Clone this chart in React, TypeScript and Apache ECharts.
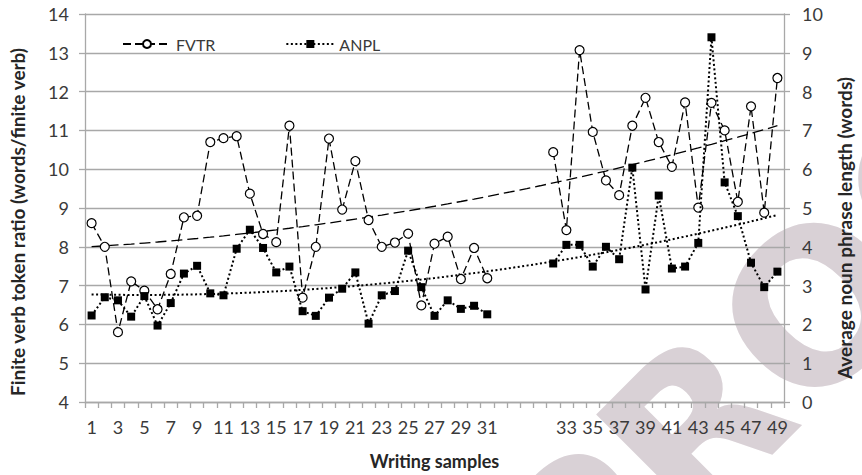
import React, { useEffect, useRef } from "react";
import * as echarts from "echarts";

const categories: string[] = [
  "1","2","3","4","5","6","7","8","9","10","11","12","13","14","15","16","17","18","19","20",
  "21","22","23","24","25","26","27","28","29","30","31","","","","",
  "32","33","34","35","36","37","38","39","40","41","42","43","44","45","46","47","48","49",
];

const fvtr: (number | null)[] = [
  8.61, 8.0, 5.8, 7.11, 6.87, 6.39, 7.3, 8.76, 8.8, 10.7, 10.8, 10.85, 9.37, 8.33, 8.12, 11.12,
  6.69, 8.0, 10.79, 8.96, 10.21, 8.69, 8.0, 8.11, 8.34, 6.49, 8.08, 8.26, 7.17, 7.97, 7.19,
  null, null, null, null,
  10.44, 8.43, 13.07, 10.96, 9.71, 9.33, 11.12, 11.84, 10.7, 10.06, 11.72, 9.01, 11.71, 11.0,
  9.16, 11.62, 8.88, 12.35,
];

const anpl: (number | null)[] = [
  2.23, 2.7, 2.62, 2.2, 2.73, 1.97, 2.55, 3.31, 3.51, 2.8, 2.75, 3.95, 4.44, 3.97, 3.34, 3.49,
  2.34, 2.22, 2.69, 2.92, 3.34, 2.02, 2.75, 2.86, 3.9, 2.96, 2.22, 2.62, 2.4, 2.48, 2.26,
  null, null, null, null,
  3.57, 4.05, 4.05, 3.49, 4.0, 3.68, 6.04, 2.9, 5.32, 3.44, 3.49, 4.1, 9.4, 5.66, 4.79, 3.59,
  2.96, 3.36,
];

const leftTicks = { min: 4, max: 14, interval: 1 };
const rightTicks = { min: 0, max: 10, interval: 1 };

// Second-order polynomial trend (least squares against category position), like a spreadsheet trendline
function polyTrend(values: (number | null)[]): number[] {
  const s = [0, 0, 0, 0, 0];
  const t = [0, 0, 0];
  values.forEach((v, i) => {
    if (v == null) return;
    const x = i + 1;
    let p = 1;
    for (let k = 0; k < 5; k++) {
      s[k] += p;
      if (k < 3) t[k] += p * v;
      p *= x;
    }
  });
  const m = [
    [s[0], s[1], s[2], t[0]],
    [s[1], s[2], s[3], t[1]],
    [s[2], s[3], s[4], t[2]],
  ];
  for (let c = 0; c < 3; c++) {
    for (let r = c + 1; r < 3; r++) {
      const f = m[r][c] / m[c][c];
      for (let k = c; k < 4; k++) m[r][k] -= f * m[c][k];
    }
  }
  const coef = [0, 0, 0];
  for (let r = 2; r >= 0; r--) {
    let acc = m[r][3];
    for (let k = r + 1; k < 3; k++) acc -= m[r][k] * coef[k];
    coef[r] = acc / m[r][r];
  }
  return values.map((_, i) => {
    const x = i + 1;
    return coef[0] + coef[1] * x + coef[2] * x * x;
  });
}

const FONT = "Lato, 'Open Sans', sans-serif";
const GRID_COLOR = "#a8a8a8";
const TEXT_COLOR = "#3a3a3a";

export default function App() {
  const ref = useRef<HTMLDivElement>(null);

  useEffect(() => {
    if (!ref.current) return;
    const chart = echarts.init(ref.current, undefined, { renderer: "svg" });
    const fvtrTrend = polyTrend(fvtr);
    const anplTrend = polyTrend(anpl);

    chart.setOption({
      animation: false,
      backgroundColor: "#ffffff",
      textStyle: { fontFamily: FONT },
      graphic: [
        {
          type: "text",
          z: -10,
          silent: true,
          x: 605,
          y: 668,
          rotation: Math.PI / 4,
          style: {
            text: "PROOF",
            fontSize: 210,
            fontWeight: "bold",
            fontFamily: "'DejaVu Sans', sans-serif",
            fill: "#d9d1d6",
            textAlign: "left",
            textVerticalAlign: "bottom",
          },
        },
      ],
      grid: { left: 85, right: 75, top: 14, bottom: 67, containLabel: false },
      legend: {
        data: ["FVTR", "ANPL"],
        left: 117,
        top: 31,
        itemWidth: 48,
        itemHeight: 10,
        itemGap: 70,
        textStyle: { fontFamily: FONT, fontSize: 16, color: TEXT_COLOR },
      },
      xAxis: {
        type: "category",
        data: categories,
        boundaryGap: true,
        name: "Writing samples",
        nameLocation: "middle",
        nameGap: 50,
        nameTextStyle: { fontFamily: FONT, fontSize: 18, fontWeight: "bold", color: "#262626" },
        axisLine: { show: true, lineStyle: { color: GRID_COLOR, width: 1.3 } },
        axisTick: { show: true, interval: 0, length: 6, lineStyle: { color: GRID_COLOR, width: 1.3 } },
        axisLabel: {
          interval: 1,
          margin: 16,
          fontSize: 18,
          color: TEXT_COLOR,
          fontFamily: FONT,
        },
        splitLine: { show: false },
      },
      yAxis: [
        {
          type: "value",
          position: "left",
          min: leftTicks.min,
          max: leftTicks.max,
          interval: leftTicks.interval,
          name: "Finite verb token ratio (words/finite verb)",
          nameLocation: "middle",
          nameGap: 58,
          nameTextStyle: {
            fontFamily: FONT,
            fontSize: 19,
            fontWeight: "bold",
            color: "#262626",
            padding: [0, 28, 0, 0],
          },
          axisLine: { show: true, lineStyle: { color: GRID_COLOR, width: 1.3 } },
          axisTick: { show: true, length: 6, lineStyle: { color: GRID_COLOR, width: 1.3 } },
          axisLabel: { margin: 16, fontSize: 18, color: TEXT_COLOR, fontFamily: FONT },
          splitLine: { show: true, lineStyle: { color: GRID_COLOR, width: 1.3 } },
        },
        {
          type: "value",
          position: "right",
          min: rightTicks.min,
          max: rightTicks.max,
          interval: rightTicks.interval,
          name: "Average noun phrase length (words)",
          nameLocation: "middle",
          nameGap: 51,
          nameTextStyle: {
            fontFamily: FONT,
            fontSize: 19,
            fontWeight: "bold",
            color: "#262626",
            padding: [0, 40, 0, 0],
          },
          axisLine: { show: true, lineStyle: { color: GRID_COLOR, width: 1.3 } },
          axisTick: { show: true, length: 6, lineStyle: { color: GRID_COLOR, width: 1.3 } },
          axisLabel: { margin: 18, fontSize: 18, color: TEXT_COLOR, fontFamily: FONT },
          splitLine: { show: false },
        },
      ],
      series: [
        {
          name: "FVTR trend",
          type: "line",
          yAxisIndex: 0,
          data: fvtrTrend,
          symbol: "none",
          z: 1,
          lineStyle: { color: "#000", width: 1.3, type: [11, 5] },
        },
        {
          name: "ANPL trend",
          type: "line",
          yAxisIndex: 1,
          data: anplTrend,
          symbol: "none",
          z: 1,
          lineStyle: { color: "#000", width: 2, type: [2, 2.5] },
        },
        {
          name: "FVTR",
          type: "line",
          yAxisIndex: 0,
          data: fvtr,
          connectNulls: false,
          symbol: "circle",
          symbolSize: 9,
          showAllSymbol: true,
          z: 3,
          itemStyle: { color: "#ffffff", borderColor: "#000", borderWidth: 1.2 },
          lineStyle: { color: "#000", width: 1.3, type: [8, 4] },
        },
        {
          name: "ANPL",
          type: "line",
          yAxisIndex: 1,
          data: anpl,
          connectNulls: false,
          symbol: "rect",
          symbolSize: 8,
          showAllSymbol: true,
          z: 4,
          itemStyle: { color: "#000" },
          lineStyle: { color: "#000", width: 2, type: [2, 2.5] },
        },
      ],
    });

    return () => {
      chart.dispose();
    };
  }, []);

  return (
    <div
      ref={ref}
      style={{ position: "fixed", left: 0, top: 0, width: 862, height: 475, background: "#fff" }}
    />
  );
}
